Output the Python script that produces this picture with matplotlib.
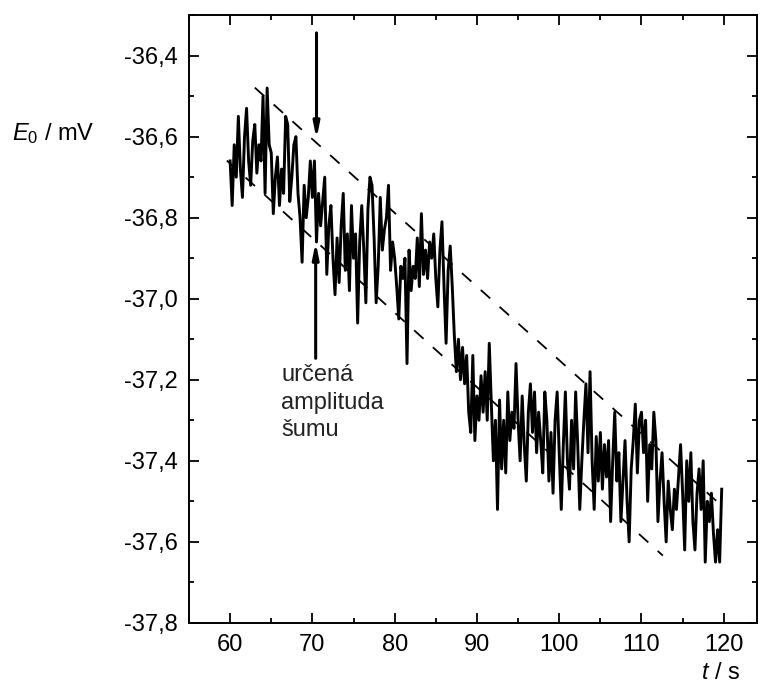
import numpy as np
import matplotlib
matplotlib.use("Agg")
import matplotlib.pyplot as plt
from matplotlib.ticker import MultipleLocator, FuncFormatter

plt.rcParams["font.family"] = ["Liberation Sans", "DejaVu Sans"]
plt.rcParams["mathtext.fontset"] = "custom"
plt.rcParams["mathtext.rm"] = "Liberation Sans"
plt.rcParams["mathtext.it"] = "Liberation Sans:italic"

# measured signal E0 (mV), sampled every 0.25 s from t = 60 s
e0_60 = [-36.66, -36.77, -36.62, -36.70, -36.55, -36.68, -36.75, -36.60, -36.53, -36.66,
         -36.72, -36.61, -36.57, -36.69, -36.62, -36.66, -36.50, -36.74, -36.48, -36.62]
e0_65 = [-36.64, -36.79, -36.70, -36.65, -36.77, -36.68, -36.74, -36.55, -36.57, -36.76,
         -36.70, -36.62, -36.60, -36.74, -36.80, -36.91, -36.72, -36.80, -36.75, -36.66]
e0_70 = [-36.75, -36.66, -36.86, -36.74, -36.82, -36.76, -36.70, -36.94, -36.82, -36.77,
         -36.90, -36.99, -36.85, -36.96, -36.82, -36.74, -36.93, -36.84, -36.98, -36.77]
e0_75 = [-36.90, -36.84, -37.06, -36.86, -36.77, -36.88, -37.01, -36.78, -36.70, -36.72,
         -36.85, -37.01, -36.92, -36.75, -36.88, -36.83, -36.80, -36.72, -36.93, -36.86]
e0_80 = [-36.90, -36.97, -37.05, -36.92, -36.95, -36.90, -37.16, -36.88, -36.98, -36.92,
         -36.95, -36.85, -36.97, -36.79, -36.94, -36.88, -36.95, -36.86, -36.90, -36.84]
e0_85 = [-36.95, -37.02, -36.88, -36.81, -36.97, -37.11, -36.93, -36.87, -36.97, -37.09,
         -37.18, -37.10, -37.20, -37.12, -37.21, -37.14, -37.28, -37.33, -37.14, -37.35]
e0_90 = [-37.24, -37.30, -37.19, -37.28, -37.18, -37.30, -37.11, -37.26, -37.40, -37.30,
         -37.52, -37.25, -37.42, -37.30, -37.43, -37.23, -37.35, -37.28, -37.32, -37.16]
e0_95 = [-37.30, -37.40, -37.24, -37.36, -37.45, -37.28, -37.21, -37.33, -37.23, -37.38,
         -37.28, -37.35, -37.43, -37.23, -37.30, -37.45, -37.33, -37.48, -37.30, -37.23]
e0_100 = [-37.38, -37.52, -37.36, -37.23, -37.40, -37.47, -37.30, -37.42, -37.23, -37.36,
          -37.52, -37.40, -37.30, -37.21, -37.38, -37.18, -37.40, -37.52, -37.34, -37.45]
e0_105 = [-37.33, -37.47, -37.36, -37.44, -37.35, -37.55, -37.40, -37.28, -37.45, -37.38,
          -37.55, -37.45, -37.35, -37.50, -37.60, -37.42, -37.35, -37.26, -37.43, -37.30]
e0_110 = [-37.28, -37.38, -37.30, -37.50, -37.36, -37.42, -37.28, -37.35, -37.55, -37.45,
          -37.38, -37.50, -37.60, -37.45, -37.52, -37.57, -37.47, -37.52, -37.44, -37.36]
e0_115 = [-37.48, -37.62, -37.40, -37.50, -37.38, -37.55, -37.62, -37.48, -37.42, -37.52,
          -37.40, -37.65, -37.50, -37.55, -37.48, -37.58, -37.65, -37.57, -37.65, -37.47]

e0 = np.array(e0_60 + e0_65 + e0_70 + e0_75 + e0_80 + e0_85 +
              e0_90 + e0_95 + e0_100 + e0_105 + e0_110 + e0_115)
t = 60 + 0.25 * np.arange(len(e0))

# dashed envelope lines (start / end points)
upper_t = [63.0, 119.1]
upper_e = [-36.479, -37.499]
lower_t = [59.6, 112.6]
lower_e = [-36.659, -37.634]

fig = plt.figure(figsize=(7.62, 6.86), dpi=100)
ax = fig.add_axes([0.248, 0.092, 0.745, 0.886])

ax.plot(t, e0, color="black", lw=2.1)
ax.plot(upper_t, upper_e, color="black", lw=1.3, dashes=(7, 7))
ax.plot(lower_t, lower_e, color="black", lw=1.3, dashes=(7, 7))

# arrows marking the noise amplitude
arrow = dict(arrowstyle="-|>,head_length=0.9,head_width=0.18", color="black", lw=2.2,
             shrinkA=0, shrinkB=0)
ax.annotate("", xy=(70.5, -36.606), xytext=(70.5, -36.344), arrowprops=arrow)
ax.annotate("", xy=(70.4, -36.860), xytext=(70.4, -37.147), arrowprops=arrow)

ax.text(66.2, -37.16, "určená\namplituda\nšumu", fontsize=17, color="#222222",
        va="top", ha="left", linespacing=1.35)

ax.set_xlim(55, 124)
ax.set_ylim(-37.8, -36.3)
ax.xaxis.set_major_locator(MultipleLocator(10))
ax.xaxis.set_minor_locator(MultipleLocator(5))
ax.yaxis.set_major_locator(MultipleLocator(0.2))
ax.yaxis.set_minor_locator(MultipleLocator(0.1))
ax.yaxis.set_major_formatter(FuncFormatter(lambda v, p: f"{v:.1f}".replace(".", ",")))

ax.tick_params(which="both", direction="in", top=True, right=True, width=1.3,
               labelsize=17, pad=8)
ax.tick_params(which="major", length=7)
ax.tick_params(which="minor", length=3.5)
for s in ax.spines.values():
    s.set_linewidth(1.4)

fig.text(12 / 762, 1 - 134 / 686, r"$\mathit{E}_{\mathrm{0}}$ / mV", fontsize=17,
         ha="left", va="center")
fig.text(721 / 762, 1 - 673 / 686, r"$\mathit{t}$ / s", fontsize=17,
         ha="center", va="center")

fig.savefig("out.png", dpi=100)
